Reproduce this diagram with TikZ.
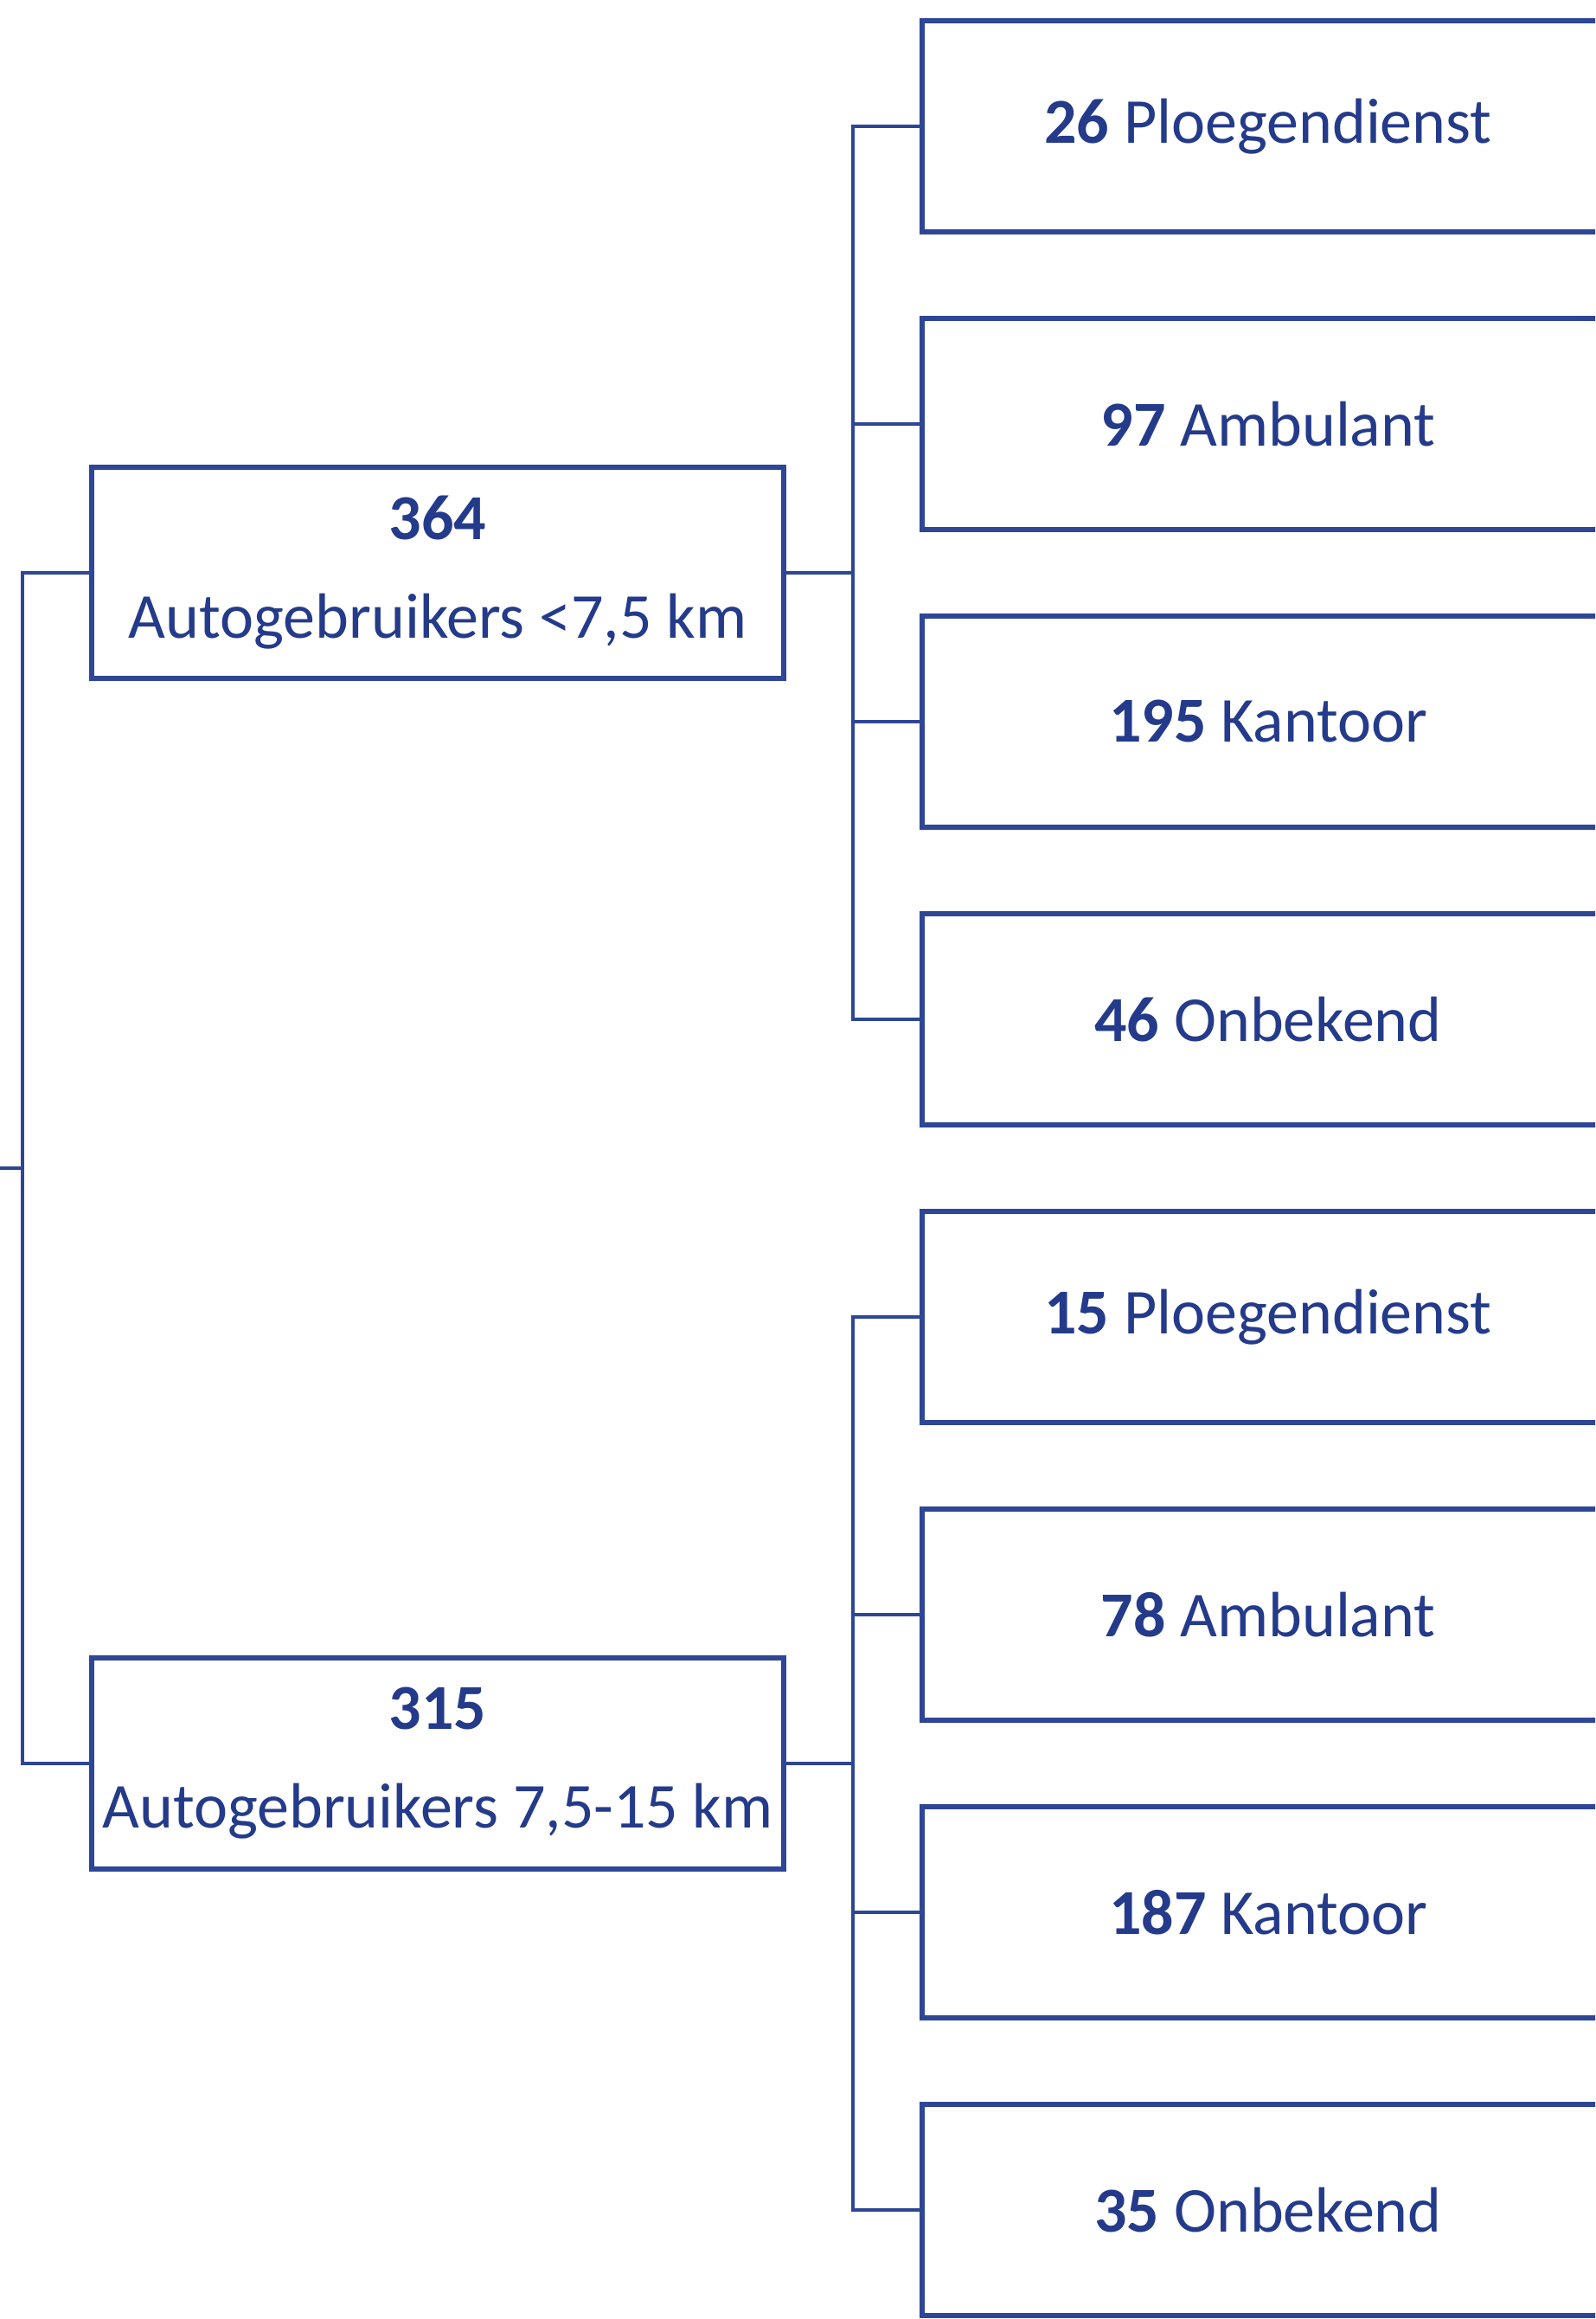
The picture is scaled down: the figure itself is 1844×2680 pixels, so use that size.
\documentclass[tikz,border=0pt]{standalone}
\usepackage{fontspec}
\setmainfont{Carlito}
\usetikzlibrary{positioning, calc}
\definecolor{boxblue}{RGB}{46,70,150}
\definecolor{textblue}{RGB}{36,58,138}
\def \boxwidth {400pt}
\def \boxheight {122pt}
\def \leafgap {50pt}
\tikzset{
  leafbox/.style = {draw = boxblue, line width = 2.6pt, fill = white, text = textblue, minimum width = \boxwidth, minimum height = \boxheight, outer sep = 0pt, inner sep = 0pt, font = \fontsize{37}{57}\selectfont, align = center},
  link/.style = {draw = boxblue, line width = 2.2pt}
}

\begin{document}
\begin{tikzpicture}[x = 0.5pt, y = -0.5pt]
\useasboundingbox (0,0) rectangle (1844,2680);
\clip (0,0) rectangle (1844,2680);

% leaves, upper group
\node (ploeg1) [leafbox] at (1466,146) {\textbf{26} Ploegendienst};
\node (ambu1) [leafbox, below = \leafgap of ploeg1] {\textbf{97} Ambulant};
\node (kant1) [leafbox, below = \leafgap of ambu1] {\textbf{195} Kantoor};
\node (onbek1) [leafbox, below = \leafgap of kant1] {\textbf{46} Onbekend};

% leaves, lower group
\node (ploeg2) [leafbox, below = \leafgap of onbek1] {\textbf{15} Ploegendienst};
\node (ambu2) [leafbox, below = \leafgap of ploeg2] {\textbf{78} Ambulant};
\node (kant2) [leafbox, below = \leafgap of ambu2] {\textbf{187} Kantoor};
\node (onbek2) [leafbox, below = \leafgap of kant2] {\textbf{35} Onbekend};

% distance groups
\coordinate (mid1) at ($(ploeg1.west)!0.5!(onbek1.west)$);
\coordinate (mid2) at ($(ploeg2.west)!0.5!(onbek2.west)$);
\node (short) [leafbox, left = 80pt of mid1] {\textbf{364}\\Autogebruikers <7,5 km};
\node (long) [leafbox, left = 80pt of mid2] {\textbf{315}\\Autogebruikers 7,5-15 km};

\coordinate (root) at ($(short.west)!0.5!(long.west) + (-106,0)$);
\draw[link] (root) -- ++(13pt,0) |- (short.west);
\draw[link] (root) -- ++(13pt,0) |- (long.west);

\draw[link] (short.east) -- ++(40pt,0) |- (ploeg1.west);
\draw[link] (short.east) -- ++(40pt,0) |- (ambu1.west);
\draw[link] (short.east) -- ++(40pt,0) |- (kant1.west);
\draw[link] (short.east) -- ++(40pt,0) |- (onbek1.west);

\draw[link] (long.east) -- ++(40pt,0) |- (ploeg2.west);
\draw[link] (long.east) -- ++(40pt,0) |- (ambu2.west);
\draw[link] (long.east) -- ++(40pt,0) |- (kant2.west);
\draw[link] (long.east) -- ++(40pt,0) |- (onbek2.west);

\end{tikzpicture}
\end{document}
